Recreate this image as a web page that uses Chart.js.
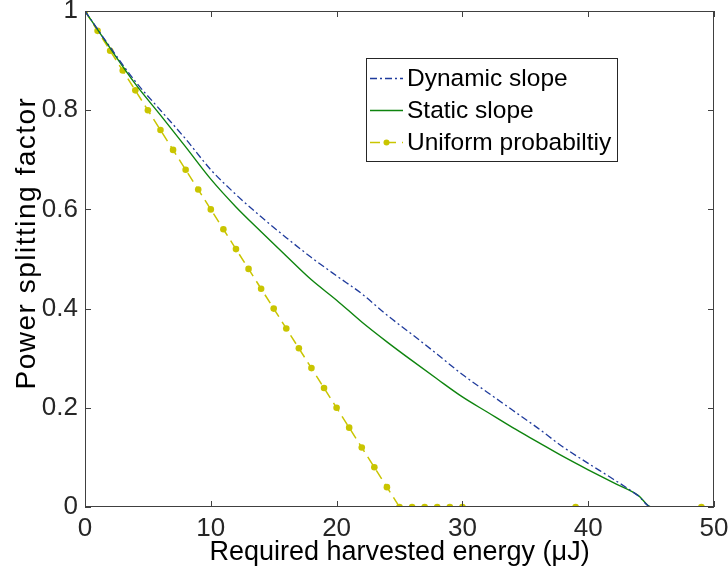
<!DOCTYPE html>
<html>
<head>
<meta charset="utf-8">
<script src="https://cdn.jsdelivr.net/npm/chart.js@4.4.1/dist/chart.umd.min.js"></script>
<style>
  html, body { margin: 0; padding: 0; background: #fff; }
  #wrap { width: 728px; height: 577px; }
</style>
</head>
<body>
<div id="wrap"><canvas id="chart" width="728" height="577"></canvas></div>
<script>
// data
const slopeX = [0, 2, 4, 6, 8, 10, 12, 14, 16, 18, 20, 22, 24, 26, 28, 30, 32, 34, 36, 38, 40, 42, 44, 45, 50];
const dynamicY = [1.0, 0.927, 0.858, 0.800, 0.742, 0.680, 0.630, 0.585, 0.543, 0.503, 0.466, 0.430, 0.387, 0.348, 0.308, 0.267, 0.231, 0.195, 0.159, 0.121, 0.088, 0.056, 0.022, 0, 0];
const staticY = [1.0, 0.925, 0.853, 0.790, 0.726, 0.661, 0.605, 0.555, 0.506, 0.458, 0.417, 0.373, 0.333, 0.295, 0.258, 0.222, 0.191, 0.160, 0.131, 0.102, 0.075, 0.049, 0.023, 0, 0];
const uniformX = [0, 1, 2, 3, 4, 5, 6, 7, 8, 9, 10, 11, 12, 13, 14, 15, 16, 17, 18, 19, 20, 21, 22, 23, 24, 25, 26, 27, 28, 29, 30, 39, 49, 50];
const uniformY = [1, 0.96, 0.92, 0.88, 0.84, 0.80, 0.76, 0.72, 0.68, 0.64, 0.60, 0.56, 0.52, 0.48, 0.44, 0.40, 0.36, 0.32, 0.28, 0.24, 0.20, 0.16, 0.12, 0.08, 0.04, 0, 0, 0, 0, 0, 0, 0, 0, 0];
const xTicks = [0, 10, 20, 30, 40, 50];
const yTicks = [0, 0.2, 0.4, 0.6, 0.8, 1];
const seriesNames = ['Dynamic slope', 'Static slope', 'Uniform probabiltiy'];
const yTitle = 'Power splitting factor';

const FONT = '"Liberation Sans", Arial, sans-serif';
const AXIS_COL = '#404040';

function pts(xs, ys) {
    return xs.map((x, i) => ({ x: x, y: ys[i] }));
}

// box + inward ticks like the matlab axes, plus the y label
const boxPlugin = {
    id: 'boxTicks',
    afterDraw(chart) {
        const { ctx, chartArea: a, scales } = chart;
        ctx.save();
        ctx.strokeStyle = AXIS_COL;
        ctx.lineWidth = 1;
        ctx.strokeRect(a.left + 0.5, a.top + 0.5, a.right - a.left - 1, a.bottom - a.top - 1);
        const len = 6;
        ctx.beginPath();
        xTicks.forEach(v => {
            const px = Math.round(scales.x.getPixelForValue(v)) + 0.5;
            ctx.moveTo(px, a.bottom); ctx.lineTo(px, a.bottom - len);
            ctx.moveTo(px, a.top); ctx.lineTo(px, a.top + len);
        });
        yTicks.forEach(v => {
            const py = Math.round(scales.y.getPixelForValue(v)) + 0.5;
            ctx.moveTo(a.left, py); ctx.lineTo(a.left + len, py);
            ctx.moveTo(a.right, py); ctx.lineTo(a.right - len, py);
        });
        ctx.stroke();

        // y axis title (sits a little above centre in the original)
        ctx.translate(27, 243);
        ctx.rotate(-Math.PI / 2);
        ctx.fillStyle = '#000';
        ctx.font = '28px ' + FONT;
        ctx.letterSpacing = '1.5px';
        ctx.textAlign = 'center';
        ctx.textBaseline = 'middle';
        ctx.fillText(yTitle, 0, 0);
        ctx.restore();
    }
};

// legend box in the top right of the axes
const legendPlugin = {
    id: 'boxLegend',
    afterDraw(chart) {
        const ctx = chart.ctx;
        const bx = 366, by = 58, bw = 251, bh = 103;
        ctx.save();
        ctx.fillStyle = '#fff';
        ctx.fillRect(bx, by, bw, bh);
        ctx.strokeStyle = '#262626';
        ctx.lineWidth = 1;
        ctx.strokeRect(bx + 0.5, by + 0.5, bw, bh);
        ctx.font = '24.5px ' + FONT;
        ctx.textBaseline = 'middle';
        const rows = [78, 110, 142];
        chart.data.datasets.forEach((ds, i) => {
            const y = rows[i] + 0.5;
            ctx.strokeStyle = ds.borderColor;
            ctx.lineWidth = ds.borderWidth;
            ctx.setLineDash(ds.borderDash || []);
            ctx.beginPath();
            ctx.moveTo(370, y);
            ctx.lineTo(403, y);
            ctx.stroke();
            ctx.setLineDash([]);
            if (ds.legendMarker) {
                ctx.fillStyle = ds.borderColor;
                ctx.beginPath();
                ctx.arc(386.5, y, 3, 0, Math.PI * 2);
                ctx.fill();
            }
            ctx.fillStyle = '#000';
            ctx.fillText(ds.label, 407, rows[i] + 1);
        });
        ctx.restore();
    }
};

new Chart(document.getElementById('chart'), {
    type: 'line',
    data: {
        datasets: [{
            label: seriesNames[0],
            data: pts(slopeX, dynamicY),
            borderColor: '#1f3b9c',
            borderWidth: 1.3,
            borderDash: [7, 3, 2, 3],
            pointRadius: 0,
            cubicInterpolationMode: 'monotone'
        }, {
            label: seriesNames[1],
            data: pts(slopeX, staticY),
            borderColor: '#0e840e',
            borderWidth: 1.4,
            pointRadius: 0,
            cubicInterpolationMode: 'monotone'
        }, {
            label: seriesNames[2],
            data: pts(uniformX, uniformY),
            borderColor: '#c9c500',
            backgroundColor: '#c9c500',
            borderWidth: 1.5,
            borderDash: [10, 6],
            pointRadius: uniformX.map(x => x === 50 ? 0 : 3.3),
            pointBorderWidth: 0,
            tension: 0,
            legendMarker: true
        }]
    },
    options: {
        responsive: false,
        animation: false,
        layout: { padding: { top: 11, right: 14, left: 0, bottom: 0 } },
        plugins: {
            legend: { display: false },
            tooltip: { enabled: false }
        },
        scales: {
            x: {
                type: 'linear',
                min: 0, max: 50,
                afterBuildTicks: s => { s.ticks = xTicks.map(v => ({ value: v })); },
                afterFit: s => { s.height = 70; s.paddingLeft = 0; s.paddingRight = 0; },
                grid: { display: false, drawTicks: false },
                border: { display: false },
                ticks: {
                    color: '#262626',
                    font: { family: FONT, size: 26 },
                    padding: 6,
                    maxRotation: 0
                },
                title: {
                    display: true,
                    text: 'Required harvested energy (\u03bcJ)',
                    color: '#000',
                    font: { family: FONT, size: 27 },
                    padding: { top: 0, bottom: 8 }
                }
            },
            y: {
                min: 0, max: 1,
                afterBuildTicks: s => { s.ticks = yTicks.map(v => ({ value: v })); },
                afterFit: s => { s.width = 85; s.paddingTop = 0; s.paddingBottom = 0; },
                grid: { display: false, drawTicks: false },
                border: { display: false },
                ticks: {
                    color: '#262626',
                    font: { family: FONT, size: 26 },
                    padding: 7,
                    callback: v => String(v)
                }
            }
        }
    },
    plugins: [boxPlugin, legendPlugin]
});
</script>
</body>
</html>
